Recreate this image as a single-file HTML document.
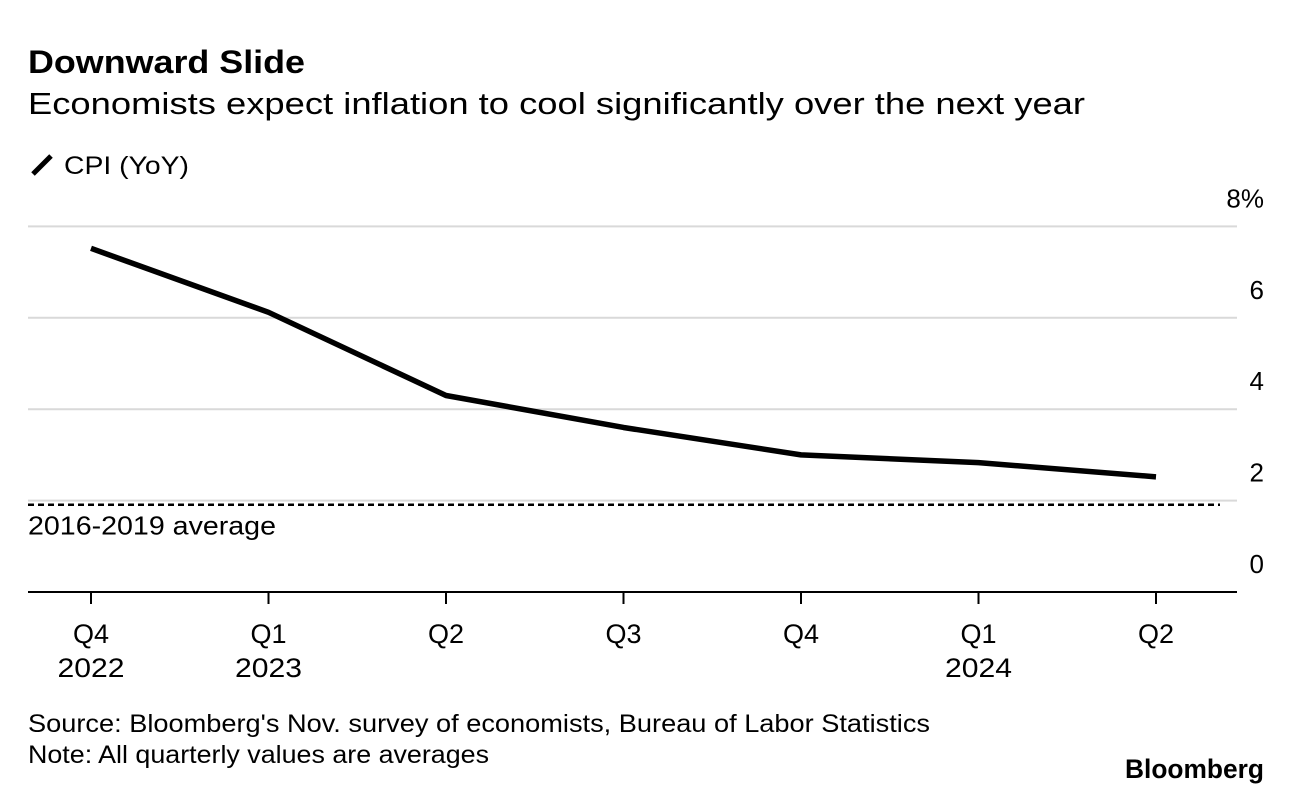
<!DOCTYPE html>
<html><head><meta charset="utf-8"><style>
body{margin:0;background:#fff;width:1292px;height:794px;overflow:hidden;font-family:"Liberation Sans",sans-serif;color:#000}
svg text{font-family:"Liberation Sans",sans-serif}
</style></head><body>
<svg width="1292" height="794">
<text x="28" y="73" font-size="32" font-weight="bold" textLength="277" lengthAdjust="spacingAndGlyphs">Downward Slide</text>
<text x="28" y="114" font-size="31" textLength="1057" lengthAdjust="spacingAndGlyphs">Economists expect inflation to cool significantly over the next year</text>
<line x1="33" y1="174" x2="51" y2="156" stroke="#000" stroke-width="5"/>
<text x="64" y="174" font-size="25" textLength="125" lengthAdjust="spacingAndGlyphs">CPI (YoY)</text>
<g id="grid"></g>
<g id="xaxis"></g>
<path id="line" fill="none" stroke="#000" stroke-width="5.5" stroke-linejoin="round"/>
<text x="28" y="732" font-size="25" textLength="902" lengthAdjust="spacingAndGlyphs">Source: Bloomberg's Nov. survey of economists, Bureau of Labor Statistics</text>
<text x="28" y="763" font-size="25" textLength="461" lengthAdjust="spacingAndGlyphs">Note: All quarterly values are averages</text>
<text x="1125" y="778" font-size="27" font-weight="bold" textLength="139" lengthAdjust="spacingAndGlyphs">Bloomberg</text>
</svg>
<script>
const categories=["Q4","Q1","Q2","Q3","Q4","Q1","Q2"];
const years=["2022","2023","","","","2024",""];
const cpiValues=[7.52,6.12,4.30,3.6,3.0,2.83,2.52];
const yTicks=[0,2,4,6,8];
const tickLabels=["0","2","4","6","8%"];
const averageValue=1.91;
const NS="http://www.w3.org/2000/svg";
const y=v=>592-v*45.7;
const x=i=>91+i*177.5;
function mk(tag,attrs,parent,text){const e=document.createElementNS(NS,tag);for(const k in attrs)e.setAttribute(k,attrs[k]);if(text!==undefined)e.textContent=text;parent.appendChild(e);return e;}
const grid=document.getElementById('grid');
yTicks.forEach((v,i)=>{
  if(v>0){const l=mk('line',{x1:28,x2:1237,y1:y(v),y2:y(v),stroke:'#d9d9d9','stroke-width':2},grid);
  
  }
  const t=mk('text',{x:1264,y:y(v)-19,'font-size':26,'text-anchor':'end'},grid,tickLabels[i]);
  
  
});
const avg=mk('line',{x1:28,x2:1220,y1:y(averageValue),y2:y(averageValue),stroke:'#000','stroke-width':2.5,'stroke-dasharray':'6,4'},grid);


const at=mk('text',{x:28,y:y(averageValue)+30,'font-size':26,textLength:248,lengthAdjust:'spacingAndGlyphs'},grid,'2016-2019 average');


const xa=document.getElementById('xaxis');
const base=mk('line',{x1:28,x2:1237,y1:592,y2:592,stroke:'#000','stroke-width':2},xa);


categories.forEach((c,i)=>{
  const tk=mk('line',{x1:x(i),x2:x(i),y1:592,y2:604,stroke:'#000','stroke-width':2},xa);
  
  
  const t=mk('text',{x:x(i),y:643,'font-size':27,'text-anchor':'middle'},xa,c);
  
  
  if(years[i]){const yt=mk('text',{x:x(i),y:677,'font-size':27,'text-anchor':'middle',textLength:67,lengthAdjust:'spacingAndGlyphs'},xa,years[i]);
  
  }
});
document.getElementById('line').setAttribute('d',cpiValues.map((v,i)=>(i?'L':'M')+x(i)+','+y(v)).join(''));
</script>
</body></html>
